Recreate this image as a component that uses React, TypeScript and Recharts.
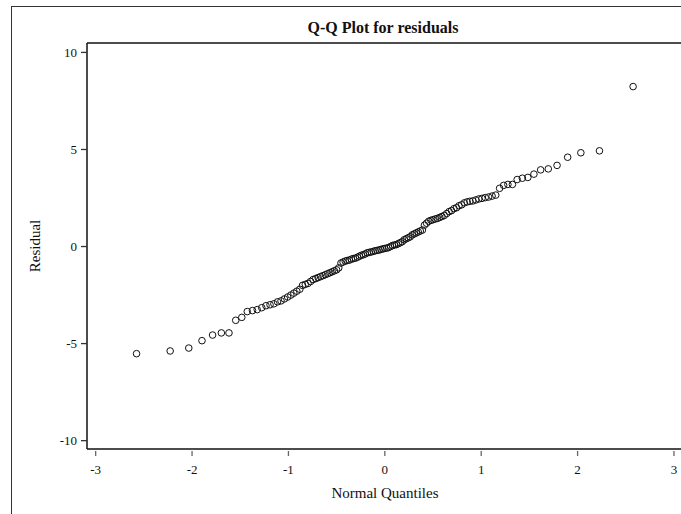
import React from "react";
import { ScatterChart, Scatter, XAxis, YAxis, ReferenceLine } from "recharts";

// Normal quantiles (x) and sorted residuals (y)
const quantiles: number[] = [
  -2.576, -2.227, -2.034, -1.897, -1.787, -1.696, -1.617, -1.547, -1.484, -1.427,
  -1.373, -1.324, -1.277, -1.233, -1.191, -1.151, -1.113, -1.077, -1.042, -1.008,
  -0.975, -0.944, -0.913, -0.882, -0.854, -0.825, -0.797, -0.770, -0.744, -0.717,
  -0.692, -0.667, -0.642, -0.617, -0.593, -0.570, -0.546, -0.523, -0.500, -0.478,
  -0.455, -0.433, -0.411, -0.390, -0.368, -0.347, -0.326, -0.305, -0.284, -0.263,
  -0.243, -0.222, -0.202, -0.181, -0.161, -0.141, -0.120, -0.100, -0.080, -0.060,
  -0.040, -0.020, 0.0, 0.020, 0.040, 0.060, 0.080, 0.100, 0.120, 0.141,
  0.161, 0.181, 0.202, 0.222, 0.243, 0.263, 0.284, 0.305, 0.326, 0.347,
  0.368, 0.390, 0.411, 0.433, 0.455, 0.478, 0.500, 0.523, 0.546, 0.570,
  0.593, 0.617, 0.642, 0.667, 0.692, 0.717, 0.744, 0.770, 0.797, 0.825,
  0.854, 0.882, 0.913, 0.944, 0.975, 1.008, 1.042, 1.077, 1.113, 1.151,
  1.191, 1.233, 1.277, 1.324, 1.373, 1.427, 1.484, 1.547, 1.617, 1.696,
  1.787, 1.897, 2.034, 2.227, 2.576,
];

const residuals: number[] = [
  -5.52, -5.38, -5.23, -4.85, -4.56, -4.45, -4.45, -3.8, -3.65, -3.35,
  -3.3, -3.25, -3.15, -3.05, -3.0, -2.95, -2.85, -2.8, -2.7, -2.6,
  -2.5, -2.4, -2.3, -2.2, -2.0, -1.95, -1.9, -1.8, -1.7, -1.65,
  -1.6, -1.55, -1.5, -1.45, -1.4, -1.35, -1.3, -1.25, -1.2, -1.1,
  -0.85, -0.8, -0.75, -0.72, -0.7, -0.65, -0.62, -0.6, -0.55, -0.5,
  -0.45, -0.42, -0.38, -0.32, -0.3, -0.28, -0.25, -0.22, -0.2, -0.18,
  -0.15, -0.12, -0.1, -0.08, -0.05, 0.0, 0.05, 0.08, 0.1, 0.15,
  0.2, 0.25, 0.35, 0.4, 0.45, 0.5, 0.6, 0.65, 0.7, 0.75,
  0.8, 0.85, 1.1, 1.2, 1.3, 1.35, 1.38, 1.42, 1.45, 1.5,
  1.55, 1.6, 1.7, 1.8, 1.85, 1.95, 2.0, 2.1, 2.15, 2.25,
  2.3, 2.33, 2.35, 2.4, 2.45, 2.48, 2.52, 2.55, 2.6, 2.65,
  3.0, 3.15, 3.2, 3.2, 3.45, 3.52, 3.56, 3.73, 3.95, 4.0,
  4.18, 4.6, 4.83, 4.93, 8.24,
];

const xTicks: number[] = [-3, -2, -1, 0, 1, 2, 3];
const yTicks: number[] = [-10, -5, 0, 5, 10];
const xDomain: number[] = [-3.09, 3.073];
const yDomain: number[] = [-10.43, 10.485];

const title = "Q-Q Plot for residuals";
const xLabel = "Normal Quantiles";
const yLabel = "Residual";

const data = quantiles.map((q, i) => ({ x: q, y: residuals[i] }));

const FONT = "'Liberation Serif', 'Times New Roman', serif";

const XTick = (props: any) => {
  const { x, y, payload } = props;
  return (
    <g>
      <line x1={x} x2={x} y1={y + 2} y2={y + 7} stroke="#666" strokeWidth={1.3} />
      <text x={x} y={y + 25} textAnchor="middle" fontFamily={FONT} fontSize={13} fill="#111">
        {payload.value}
      </text>
    </g>
  );
};

const YTick = (props: any) => {
  const { x, y, payload } = props;
  return (
    <text x={x} y={y} dy="0.36em" textAnchor="end" fontFamily={FONT} fontSize={13} fill="#111">
      {payload.value}
    </text>
  );
};

const Ring = (props: any) => {
  const { cx, cy } = props;
  return <circle cx={cx} cy={cy} r={3.3} fill="none" stroke="#111" strokeWidth={1} />;
};

export default function App() {
  return (
    <div style={{ position: "absolute", left: 0, top: 0, width: 681, height: 514, overflow: "hidden", background: "#fff" }}>
      <div
        style={{
          position: "absolute",
          left: 11,
          top: 6,
          width: 700,
          height: 600,
          borderLeft: "1.3px solid #333",
          borderTop: "1.3px solid #333",
        }}
      />
      <div style={{ position: "absolute", left: 0, top: 0 }}>
        <ScatterChart width={681} height={514} margin={{ top: 43, right: 0, bottom: 0, left: 0 }}>
          <XAxis
            type="number"
            dataKey="x"
            domain={xDomain}
            ticks={xTicks}
            allowDataOverflow
            height={65}
            tickSize={0}
            tickMargin={0}
            tickLine={false}
            tick={<XTick />}
            axisLine={{ stroke: "#111", strokeWidth: 1.5 }}
          />
          <YAxis
            type="number"
            dataKey="y"
            domain={yDomain}
            ticks={yTicks}
            allowDataOverflow
            width={87}
            tickSize={6}
            tickMargin={4}
            tickLine={{ stroke: "#333", strokeWidth: 1.3 }}
            tick={<YTick />}
            axisLine={{ stroke: "#111", strokeWidth: 1.5 }}
          />
          <ReferenceLine y={yDomain[1]} stroke="#111" strokeWidth={1.5} ifOverflow="extendDomain" />
          <Scatter data={data} shape={<Ring />} isAnimationActive={false} />
        </ScatterChart>
      </div>
      <svg width={681} height={514} style={{ position: "absolute", left: 0, top: 0, pointerEvents: "none" }}>
        <text x={383} y={33} textAnchor="middle" fontFamily={FONT} fontWeight="bold" fontSize={16} fill="#111">
          {title}
        </text>
        <text x={385} y={498} textAnchor="middle" fontFamily={FONT} fontSize={15} fill="#111">
          {xLabel}
        </text>
        <text
          x={0}
          y={0}
          transform="translate(40,246) rotate(-90)"
          textAnchor="middle"
          fontFamily={FONT}
          fontSize={15}
          fill="#111"
        >
          {yLabel}
        </text>
      </svg>
    </div>
  );
}
